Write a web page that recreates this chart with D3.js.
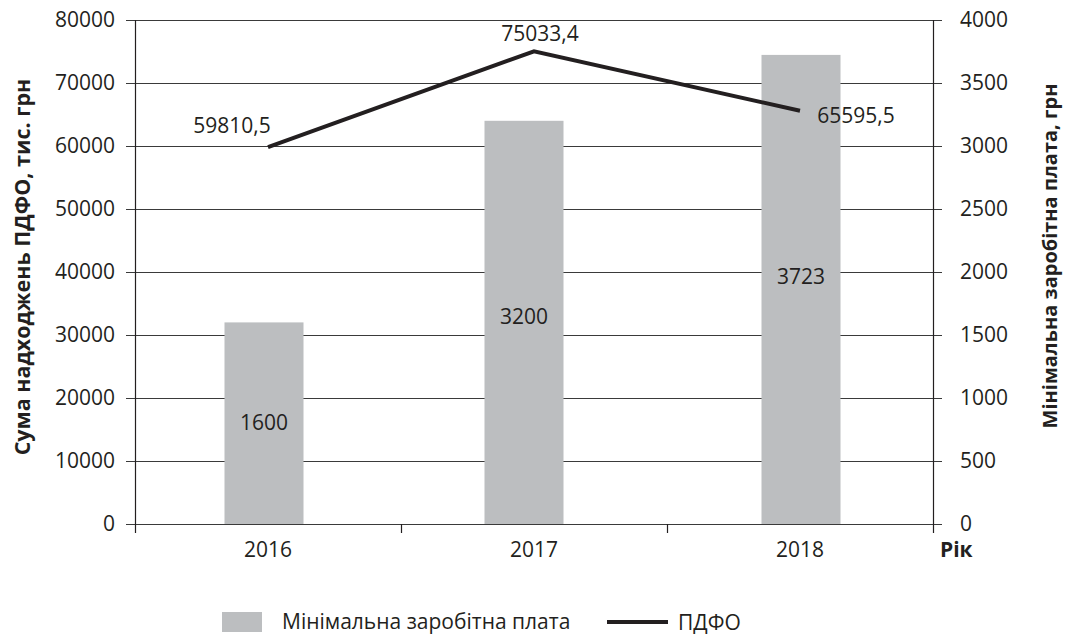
<!DOCTYPE html>
<html><head><meta charset="utf-8">
<script src="https://d3js.org/d3.v7.min.js"></script>
<style>body{margin:0;background:#fff}svg{display:block}text{font-family:"Open Sans","Noto Sans",sans-serif;fill:#231f20}</style>
</head><body><svg id="c" width="1066" height="637"></svg>
<script>
const years = ["2016", "2017", "2018"];
const minWage = [1600, 3200, 3723];
const pdfo = [59810.5, 75033.4, 65595.5];
const pdfoLabels = ["59810,5", "75033,4", "65595,5"];
const leftTicks = [0, 10000, 20000, 30000, 40000, 50000, 60000, 70000, 80000];
const rightTicks = [0, 500, 1000, 1500, 2000, 2500, 3000, 3500, 4000];

const svg = d3.select("#c");
const X0 = 135, X1 = 933, Y0 = 20, Y1 = 524;
const x = d3.scaleBand().domain(years).range([X0, X1]).padding(0);
const xb = d3.scaleBand().domain(years).range([X0, X1]).paddingInner(0.703).paddingOuter(0.3515);
const barShift = [-4, -10, 1];
const yL = d3.scaleLinear().domain([0, 80000]).range([Y1, Y0]);
const yR = d3.scaleLinear().domain([0, 4000]).range([Y1, Y0]);
const ink = "#231f20";

// gridlines (span tick-to-tick)
svg.append("g").selectAll("line").data(leftTicks).join("line")
  .attr("x1", X0 - 9).attr("x2", X1 + 9)
  .attr("y1", d => yL(d) + 0.5).attr("y2", d => yL(d) + 0.5)
  .attr("stroke", "#3a3a3a").attr("stroke-width", 1.2);

// bars
svg.append("g").selectAll("rect").data(years).join("rect")
  .attr("x", (d, i) => xb(d) + barShift[i]).attr("width", xb.bandwidth())
  .attr("y", (d, i) => yR(minWage[i])).attr("height", (d, i) => Y1 - yR(minWage[i]))
  .attr("fill", "#bcbec0");

// axes lines
svg.append("line").attr("x1", X0 + 0.5).attr("x2", X0 + 0.5).attr("y1", Y0).attr("y2", Y1 + 9).attr("stroke", ink).attr("stroke-width", 1.2);
svg.append("line").attr("x1", X1 + 0.5).attr("x2", X1 + 0.5).attr("y1", Y0).attr("y2", Y1 + 9).attr("stroke", ink).attr("stroke-width", 1.2);
// x ticks
svg.append("g").selectAll("line").data(years.slice(1)).join("line")
  .attr("x1", d => x(d) + 0.5).attr("x2", d => x(d) + 0.5)
  .attr("y1", Y1).attr("y2", Y1 + 9).attr("stroke", ink).attr("stroke-width", 1.2);

// left tick labels
svg.append("g").selectAll("text").data(leftTicks).join("text")
  .attr("x", X0 - 20).attr("y", d => yL(d) + 7)
  .attr("text-anchor", "end").attr("font-size", 21).text(d => d);
// right tick labels
svg.append("g").selectAll("text").data(rightTicks).join("text")
  .attr("x", X1 + 27).attr("y", d => yR(d) + 7)
  .attr("text-anchor", "start").attr("font-size", 21).text(d => d);
// year labels
svg.append("g").selectAll("text").data(years).join("text")
  .attr("x", d => x(d) + x.bandwidth() / 2).attr("y", 557)
  .attr("text-anchor", "middle").attr("font-size", 21).text(d => d);
svg.append("text").attr("x", 940).attr("y", 557).attr("font-size", 21).attr("font-weight", "bold").text("Рік");

// line
const line = d3.line().x((d, i) => x(years[i]) + x.bandwidth() / 2).y(d => yL(d));
svg.append("path").datum(pdfo).attr("d", line).attr("fill", "none")
  .attr("stroke", ink).attr("stroke-width", 4);

// bar value labels
const barLblDy = [2, -3, -10];
svg.append("g").selectAll("text").data(minWage).join("text")
  .attr("x", (d, i) => xb(years[i]) + barShift[i] + xb.bandwidth() / 2)
  .attr("y", (d, i) => (yR(d) + Y1) / 2 + 5 + barLblDy[i])
  .attr("text-anchor", "middle").attr("font-size", 21).text(d => d);

// line labels
const lblDx = [-36, 6, 56], lblDy = [-14, -10, 12];
svg.append("g").selectAll("text").data(pdfo).join("text")
  .attr("x", (d, i) => x(years[i]) + x.bandwidth() / 2 + lblDx[i])
  .attr("y", (d, i) => yL(d) + lblDy[i])
  .attr("text-anchor", "middle").attr("font-size", 21).text((d, i) => pdfoLabels[i]);

// axis titles
svg.append("text").attr("transform", "translate(30,267) rotate(-90)")
  .attr("text-anchor", "middle").attr("font-size", 21.5).attr("font-weight", "bold")
  .text("Сума надходжень ПДФО, тис. грн");
svg.append("text").attr("transform", "translate(1057,256) rotate(-90)")
  .attr("text-anchor", "middle").attr("font-size", 20).attr("font-weight", "bold")
  .text("Мінімальна заробітна плата, грн");

// legend
const lg = svg.append("g");
lg.append("rect").attr("x", 222).attr("y", 612).attr("width", 40).attr("height", 20).attr("fill", "#bcbec0");
lg.append("text").attr("x", 282).attr("y", 629).attr("font-size", 21).text("Мінімальна заробітна плата");
lg.append("line").attr("x1", 607).attr("x2", 668).attr("y1", 622).attr("y2", 622).attr("stroke", ink).attr("stroke-width", 4);
lg.append("text").attr("x", 678).attr("y", 630).attr("font-size", 21).text("ПДФО");
</script></body></html>
